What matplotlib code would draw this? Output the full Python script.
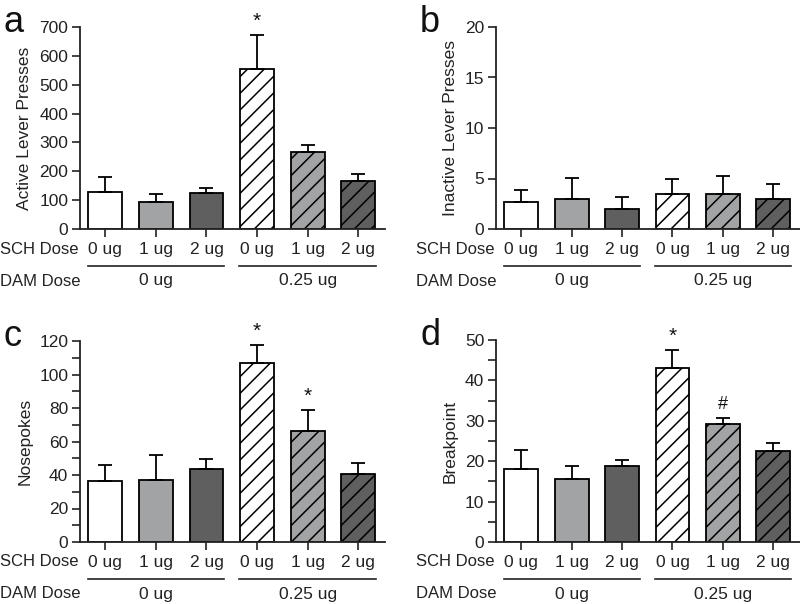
import numpy as np
import matplotlib
matplotlib.use('Agg')
import matplotlib.pyplot as plt
from matplotlib.ticker import MultipleLocator

plt.rcParams['font.family'] = ['Liberation Sans', 'DejaVu Sans']
plt.rcParams['hatch.linewidth'] = 1.1
plt.rcParams['axes.linewidth'] = 1.3

sch_labels = ['0 ug', '1 ug', '2 ug', '0 ug', '1 ug', '2 ug']
dam_labels = ['0 ug', '0.25 ug']

active_mean = [127, 92, 125, 556, 266, 167]
active_sem = [52, 28, 18, 116, 24, 24]

inactive_mean = [2.7, 3.0, 2.0, 3.5, 3.5, 3.0]
inactive_sem = [1.2, 2.05, 1.15, 1.45, 1.7, 1.45]

nose_mean = [36.2, 36.8, 43.5, 107.0, 66.0, 40.3]
nose_sem = [9.5, 14.9, 6.2, 10.8, 13.0, 7.0]

bp_mean = [18.0, 15.7, 18.9, 43.0, 29.2, 22.6]
bp_sem = [4.7, 3.2, 1.5, 4.5, 1.6, 2.0]

face = ['white', '#a1a3a5', '#5f5f5f', 'white', '#a1a3a5', '#5f5f5f']
hatch = [None, None, None, '//', '//', '//']

fig = plt.figure(figsize=(8, 6.04), dpi=100)

W, H = 800, 604


def add_axes(left, right, top, bottom):
    return fig.add_axes([left / W, 1 - bottom / H, (right - left) / W, (bottom - top) / H])


def panel(ax, means, sems, ylim, major, minor, ylabel, letter, marks):
    x = np.arange(len(means))
    for i in x:
        ax.bar(i, means[i], width=0.67, color=face[i], edgecolor='black',
               linewidth=1.3, hatch=hatch[i], zorder=2)
    ax.errorbar(x, means, yerr=[np.zeros(len(sems)), sems], fmt='none',
                ecolor='black', elinewidth=1.3, capsize=5, capthick=1.3, zorder=3)
    ax.set_xlim(-0.5, 5.53)
    ax.set_ylim(0, ylim)
    ax.yaxis.set_major_locator(MultipleLocator(major))
    if minor:
        ax.yaxis.set_minor_locator(MultipleLocator(minor))
    ax.spines['top'].set_visible(False)
    ax.spines['right'].set_visible(False)
    ax.spines['left'].set_color('#222222')
    ax.spines['bottom'].set_color('#222222')
    ax.set_xticks(x)
    ax.set_xticklabels(sch_labels)
    ax.tick_params(axis='both', which='both', direction='out', length=6,
                   width=1.2, labelsize=12.5, colors='#222222', pad=2.5)
    ax.tick_params(axis='x', pad=3.5)
    ax.set_ylabel(ylabel, fontsize=12.5, color='#222222', labelpad=5)

    hpx = ax.get_position().height * H
    trans = ax.get_xaxis_transform()
    ax.text(-0.262, -20 / hpx, 'SCH Dose', transform=ax.transAxes, ha='left',
            va='center', fontsize=12, color='#222222')
    ax.text(-0.262, -52 / hpx, 'DAM Dose', transform=ax.transAxes, ha='left',
            va='center', fontsize=12, color='#222222')
    for g in range(2):
        ax.plot([3 * g - 0.35, 3 * g + 2.35], [-37 / hpx, -37 / hpx], color='#222222',
                lw=1.2, transform=trans, clip_on=False)
        ax.text(3 * g + 1, -52 / hpx, dam_labels[g], transform=trans, ha='center',
                va='center', fontsize=12.5, color='#222222')

    ax.text(-0.25, 1.02, letter, transform=ax.transAxes, fontsize=26,
            ha='left', va='center', color='#111111')

    for i, m in marks:
        ax.annotate(m, (i, means[i] + sems[i]), xytext=(0, 3), textcoords='offset points',
                    ha='center', va='bottom', fontsize=15 if m == '*' else 13,
                    color='#111111', annotation_clip=False)


ax_a = add_axes(80, 385, 27, 229)
ax_b = add_axes(496, 800, 27, 229)
ax_c = add_axes(80, 385, 341, 542)
ax_d = add_axes(496, 800, 340, 542)

panel(ax_a, active_mean, active_sem, 700, 100, None, 'Active Lever Presses', 'a', [(3, '*')])
panel(ax_b, inactive_mean, inactive_sem, 20, 5, None, 'Inactive Lever Presses', 'b', [])
panel(ax_c, nose_mean, nose_sem, 120, 20, 10, 'Nosepokes', 'c', [(3, '*'), (4, '*')])
panel(ax_d, bp_mean, bp_sem, 50, 10, 5, 'Breakpoint', 'd', [(3, '*'), (4, '#')])

fig.savefig('out.png', dpi=100)
